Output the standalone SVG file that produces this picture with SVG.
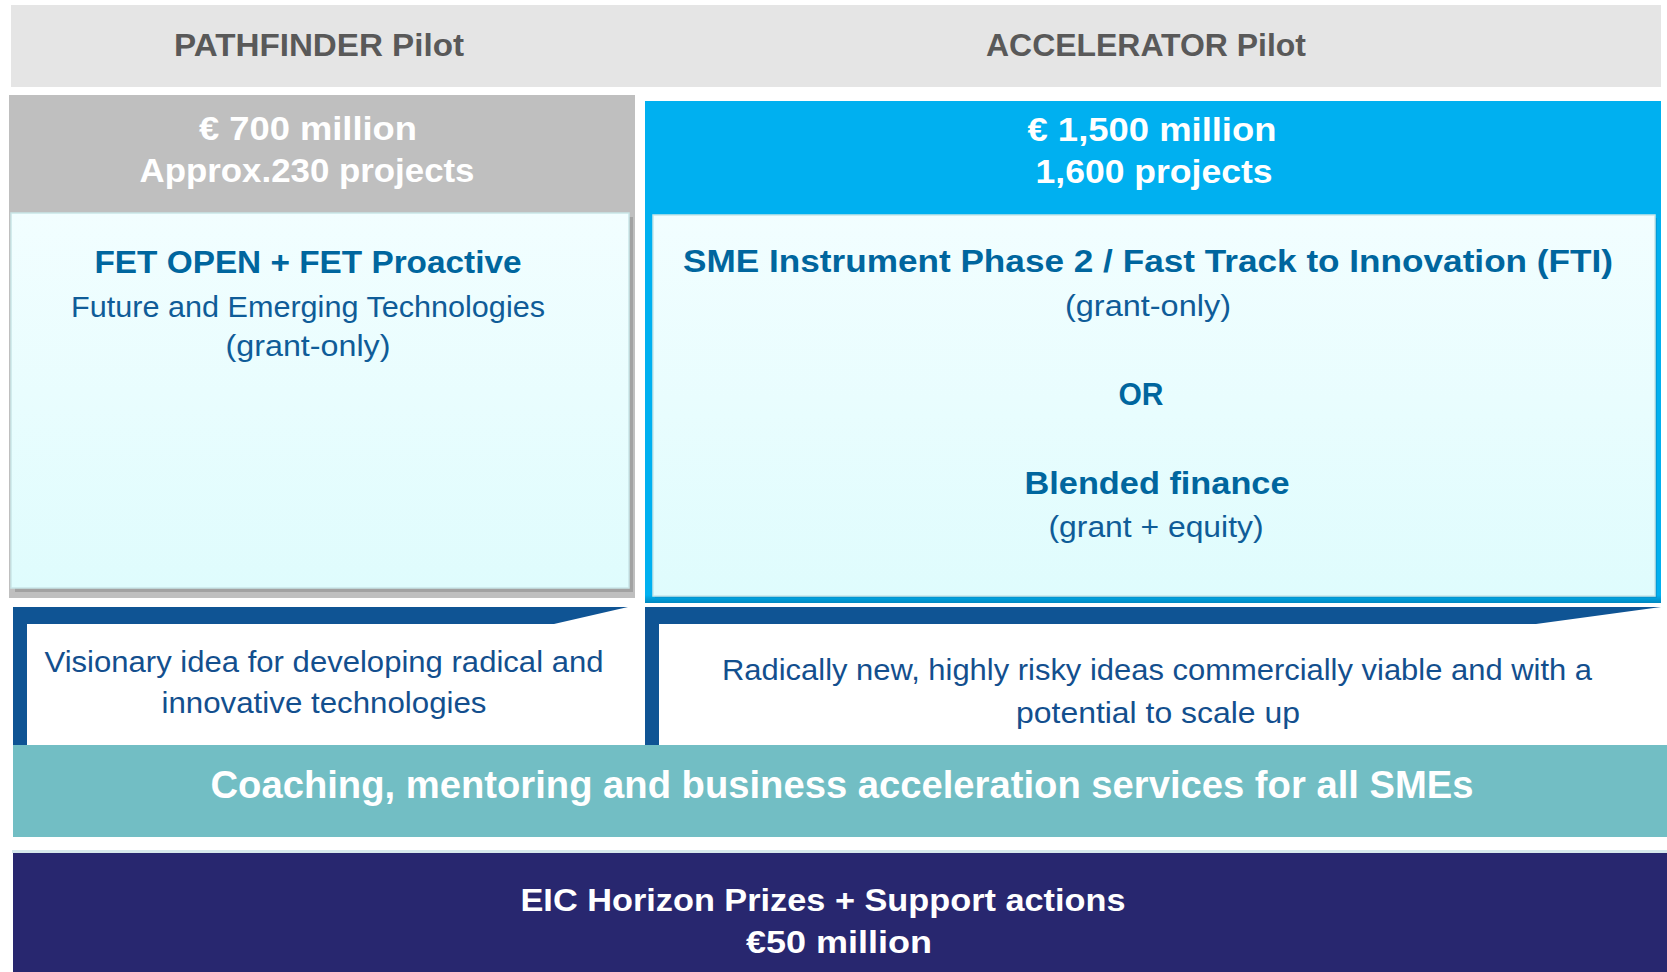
<svg xmlns="http://www.w3.org/2000/svg" width="1667" height="972" viewBox="0 0 1667 972">
  <style>
    text { font-family: "Liberation Sans", Arial, sans-serif; text-anchor: middle; }
    .hdr { font-size: 32px; font-weight: bold; fill: #595959; }
    .money { font-size: 34px; font-weight: bold; fill: #ffffff; }
    .bt { font-size: 32px; font-weight: bold; fill: #00669e; }
    .rt { font-size: 29px; fill: #0f5c98; }
    .desc { font-size: 30px; fill: #134f8e; }
    .coach { font-size: 38px; font-weight: bold; fill: #ffffff; }
    .eic { font-size: 32px; font-weight: bold; fill: #ffffff; }
    .bracket { fill: #0f5494; }
  </style>
  <defs>
    <linearGradient id="innerGrad" x1="0" y1="0" x2="0" y2="1">
      <stop offset="0" stop-color="#f2feff"/>
      <stop offset="1" stop-color="#dffcfd"/>
    </linearGradient>
    <linearGradient id="cyanBottom" x1="0" y1="0" x2="0" y2="1">
      <stop offset="0" stop-color="#00b0f0"/>
      <stop offset="1" stop-color="#0088c0"/>
    </linearGradient>
  </defs>

  <rect width="1667" height="972" fill="#ffffff"/>

  <g id="header">
    <rect x="11" y="5" width="1650" height="82" fill="#e5e5e5"/>
    <text class="hdr" x="319" y="56" textLength="290" lengthAdjust="spacingAndGlyphs">PATHFINDER  Pilot</text>
    <text class="hdr" x="1146" y="56" textLength="320" lengthAdjust="spacingAndGlyphs">ACCELERATOR  Pilot</text>
  </g>

  <g id="pathfinder">
    <rect x="9" y="95" width="626" height="503" fill="#bfbfbf"/>
    <text class="money" x="308" y="140" textLength="218" lengthAdjust="spacingAndGlyphs">€ 700 million</text>
    <text class="money" x="307" y="182" textLength="335" lengthAdjust="spacingAndGlyphs">Approx.230 projects</text>
    <rect x="15" y="217" width="618" height="375" fill="#8f8f8f" opacity="0.6"/>
    <rect x="11" y="213" width="618" height="375" fill="url(#innerGrad)" stroke="#c9e6e8" stroke-width="1.5"/>
    <text class="bt" x="308" y="273" textLength="427" lengthAdjust="spacingAndGlyphs">FET OPEN + FET Proactive</text>
    <text class="rt" x="308" y="317" textLength="474" lengthAdjust="spacingAndGlyphs">Future and Emerging Technologies</text>
    <text class="rt" x="308" y="356" textLength="165" lengthAdjust="spacingAndGlyphs">(grant-only)</text>
  </g>

  <g id="accelerator">
    <rect x="645" y="101" width="1016" height="502" fill="#00b0f0"/>
    <rect x="645" y="595" width="1016" height="8" fill="url(#cyanBottom)"/>
    <text class="money" x="1152" y="141" textLength="249" lengthAdjust="spacingAndGlyphs">€ 1,500 million</text>
    <text class="money" x="1154" y="183" textLength="237" lengthAdjust="spacingAndGlyphs">1,600 projects</text>
    <rect x="655" y="218" width="1002" height="380" fill="#0a86bd" opacity="0.5"/>
    <rect x="653" y="215" width="1002" height="381" fill="url(#innerGrad)" stroke="#c9e6e8" stroke-width="1.5"/>
    <text class="bt" x="1148" y="272" textLength="930" lengthAdjust="spacingAndGlyphs">SME Instrument Phase 2 / Fast Track to Innovation (FTI)</text>
    <text class="rt" x="1148" y="316" textLength="166" lengthAdjust="spacingAndGlyphs">(grant-only)</text>
    <text class="bt" x="1141" y="405" textLength="45" lengthAdjust="spacingAndGlyphs">OR</text>
    <text class="bt" x="1157" y="494" textLength="265" lengthAdjust="spacingAndGlyphs">Blended finance</text>
    <text class="rt" x="1156" y="537" textLength="215" lengthAdjust="spacingAndGlyphs">(grant + equity)</text>
  </g>

  <g id="pathfinder-description">
    <polygon class="bracket" points="13,607 628,607 554,624 27,624 27,745 13,748"/>
    <text class="desc" x="324" y="672" textLength="559" lengthAdjust="spacingAndGlyphs">Visionary idea for developing radical and</text>
    <text class="desc" x="324" y="713" textLength="325" lengthAdjust="spacingAndGlyphs">innovative technologies</text>
  </g>

  <g id="accelerator-description">
    <polygon class="bracket" points="645,607 1661,607 1536,624 659,624 659,745 645,748"/>
    <text class="desc" x="1157" y="680" textLength="870" lengthAdjust="spacingAndGlyphs">Radically new, highly risky ideas commercially viable and with a</text>
    <text class="desc" x="1158" y="723" textLength="284" lengthAdjust="spacingAndGlyphs">potential to scale up</text>
  </g>

  <g id="coaching">
    <rect x="13" y="745" width="1654" height="92" fill="#72bec4"/>
    <text class="coach" x="842" y="798" textLength="1263" lengthAdjust="spacingAndGlyphs">Coaching, mentoring and business acceleration services for all SMEs</text>
  </g>

  <g id="eic-prizes">
    <rect x="12" y="850" width="1655" height="3" fill="#d6e8eb"/>
    <rect x="13" y="853" width="1654" height="119" fill="#28276f"/>
    <text class="eic" x="823" y="911" textLength="605" lengthAdjust="spacingAndGlyphs">EIC Horizon Prizes + Support actions</text>
    <text class="eic" x="839" y="953" textLength="186" lengthAdjust="spacingAndGlyphs">€50 million</text>
  </g>

  <g id="connectors"/>
</svg>
